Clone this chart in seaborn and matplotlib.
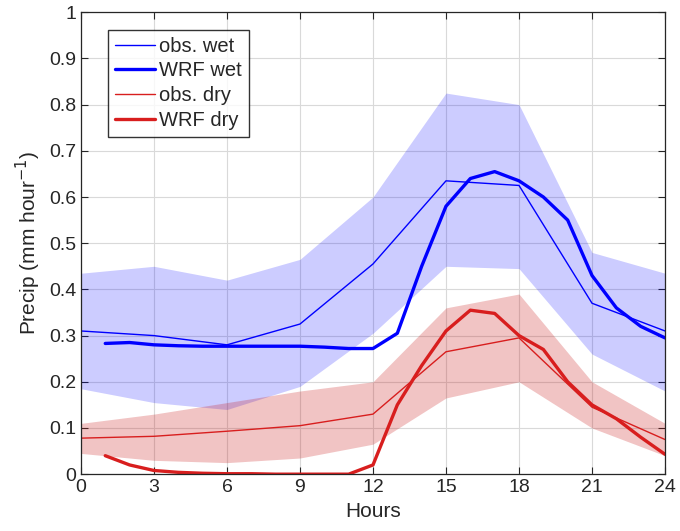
import numpy as np
import pandas as pd
import matplotlib
matplotlib.use("Agg")
import matplotlib.pyplot as plt
import seaborn as sns

# ---------------------------
# Data
# ---------------------------
obs_hours = [0, 3, 6, 9, 12, 15, 18, 21, 24]
obs_wet = [0.31, 0.30, 0.28, 0.325, 0.455, 0.635, 0.625, 0.37, 0.31]
obs_wet_hi = [0.435, 0.45, 0.42, 0.465, 0.60, 0.825, 0.80, 0.48, 0.435]
obs_wet_lo = [0.185, 0.155, 0.14, 0.19, 0.305, 0.45, 0.445, 0.26, 0.18]
obs_dry = [0.078, 0.082, 0.093, 0.105, 0.13, 0.265, 0.295, 0.145, 0.075]
obs_dry_hi = [0.11, 0.13, 0.155, 0.18, 0.20, 0.36, 0.39, 0.20, 0.11]
obs_dry_lo = [0.045, 0.03, 0.025, 0.035, 0.065, 0.165, 0.20, 0.10, 0.04]

wrf_hours = list(range(1, 25))
wrf_wet = [0.283, 0.285, 0.28, 0.278, 0.277, 0.277, 0.277, 0.277, 0.277, 0.275,
           0.272, 0.272, 0.305, 0.45, 0.58, 0.64, 0.655, 0.635, 0.60, 0.55,
           0.43, 0.36, 0.32, 0.295]
wrf_dry = [0.04, 0.02, 0.008, 0.004, 0.002, 0.001, 0.001, 0.0, 0.0, 0.0,
           0.0, 0.02, 0.15, 0.235, 0.31, 0.355, 0.348, 0.30, 0.27, 0.20,
           0.15, 0.12, 0.08, 0.043]

BLUE = "#0000ff"
RED = "#d81e1e"

# ---------------------------
# Plot
# ---------------------------
sns.set_style("ticks")
plt.rcParams['font.family'] = ['Liberation Sans', 'DejaVu Sans']

fig = plt.figure(figsize=(6.8, 5.31), dpi=100)
ax = fig.add_axes([0.119, 0.107, 0.859, 0.870])

ax.fill_between(obs_hours, obs_wet_lo, obs_wet_hi, color="#0000ff", alpha=0.2, lw=0)
ax.fill_between(obs_hours, obs_dry_lo, obs_dry_hi, color="#c81414", alpha=0.25, lw=0)

sns.lineplot(x=obs_hours, y=obs_wet, ax=ax, color=BLUE, lw=1.0, label="obs. wet")
sns.lineplot(x=wrf_hours, y=wrf_wet, ax=ax, color=BLUE, lw=2.4, label="WRF wet")
sns.lineplot(x=obs_hours, y=obs_dry, ax=ax, color=RED, lw=1.0, label="obs. dry")
sns.lineplot(x=wrf_hours, y=wrf_dry, ax=ax, color=RED, lw=2.4, label="WRF dry")

ax.set_xlim(0, 24)
ax.set_ylim(0, 1)
ax.set_xticks(np.arange(0, 25, 3))
ax.set_yticks(np.arange(0, 1.01, 0.1))
ax.set_yticklabels(["0"] + [f"{v:.1f}" for v in np.arange(0.1, 0.95, 0.1)] + ["1"])
ax.grid(True, color="#d9d9d9", lw=0.8)
ax.set_axisbelow(True)
ax.tick_params(direction="in", labelsize=14, length=5, top=True, right=True, colors="#262626")
for s in ax.spines.values():
    s.set_color("#262626")
    s.set_linewidth(0.9)

ax.set_xlabel("Hours", fontsize=15)
ax.set_ylabel("Precip (mm hour$^{-1}$)", fontsize=15)

leg = ax.legend(loc="upper left", bbox_to_anchor=(0.046, 0.962), fontsize=14.5,
                frameon=True, fancybox=False, edgecolor="black",
                handlelength=2.0, handletextpad=0.2, labelspacing=0.28,
                borderpad=0.35, borderaxespad=0)
leg.get_frame().set_linewidth(1.0)

fig.savefig("out.png", dpi=100)
